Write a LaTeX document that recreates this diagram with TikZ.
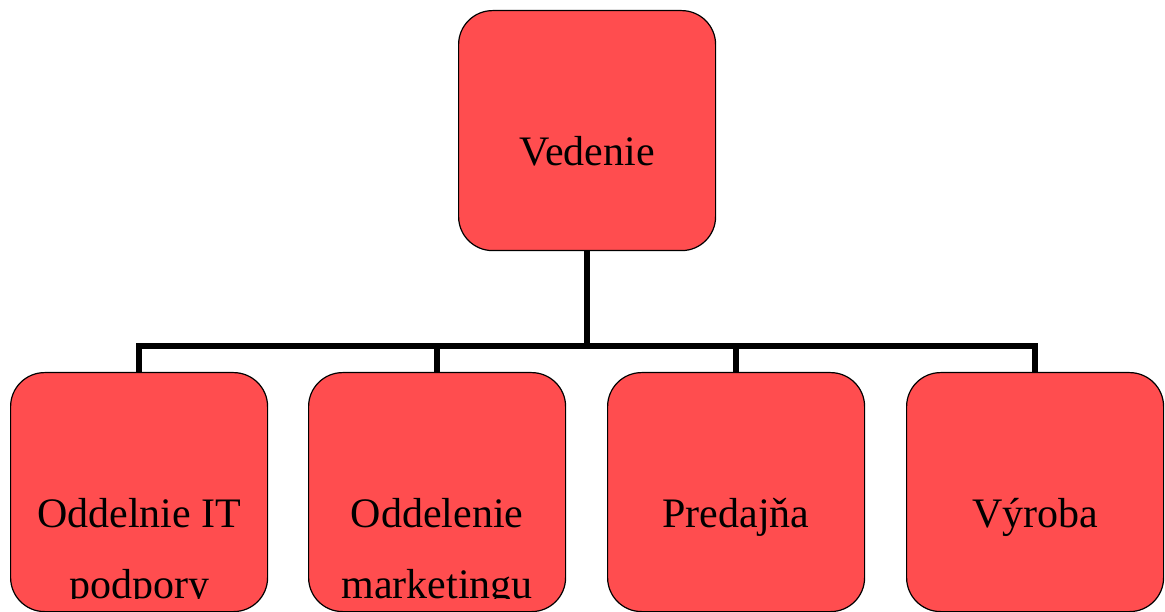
\documentclass[tikz,border=0pt]{standalone}
\usepackage{fontspec}
\setmainfont{Liberation Serif}
\usetikzlibrary{calc}
\definecolor{boxred}{RGB}{255,77,79}
\begin{document}
\begin{tikzpicture}[x=1pt,y=-1pt,
  unit/.style={draw=black, line width=1.2pt, fill=boxred, rounded corners=34pt,
    minimum width=257pt, minimum height=239pt, inner sep=0pt, anchor=north west},
  boxtext/.style={font=\fontsize{42}{71}\selectfont, align=center, anchor=base, inner sep=0pt},
  link/.style={line width=6pt, line join=miter}]
\useasboundingbox (0,0) rectangle (1165,612);

% organisation units
\node[unit, minimum height=240pt] (top) at (458,10) {};
\node[unit] (it) at (10,372) {};
\node[unit] (mk) at (308,372) {};
\node[unit] (pr) at (607,372) {};
\node[unit] (vy) at (906,372) {};

% unit names (base anchor sits on the last line of a two-line name)
\node[boxtext] (topt) at ($(top.north)+(0,156)$) {Vedenie};
\begin{scope}
  \clip (0,0) rectangle (1165,598);
  \node[boxtext] (itt) at ($(it.north)+(0,226)$) {Oddelnie IT\\podpory};
  \node[boxtext] (mkt) at ($(mk.north)+(0,226)$) {Oddelenie\\marketingu};
  \node[boxtext] (prt) at ($(pr.north)+(0,155)$) {Predajňa};
  \node[boxtext] (vyt) at ($(vy.north)+(0,155)$) {Výroba};
\end{scope}

% connectors
\coordinate (bus) at (0,346);
\draw[link] (top.south) -- (top.south |- bus);
\draw[link] (it.north) -- (it.north |- bus) -- (vy.north |- bus) -- (vy.north);
\draw[link] (mk.north) -- (mk.north |- bus);
\draw[link] (pr.north) -- (pr.north |- bus);
\end{tikzpicture}
\end{document}
